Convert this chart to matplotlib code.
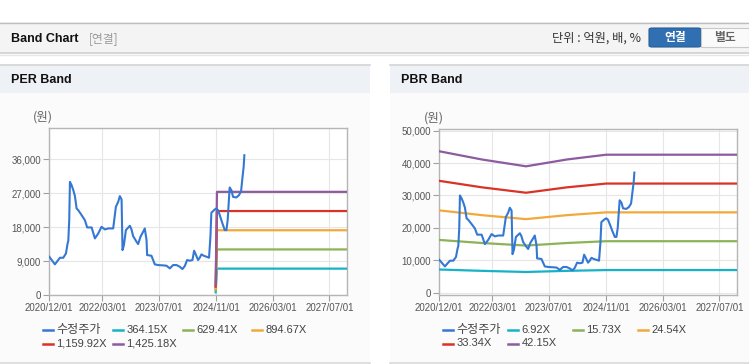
import numpy as np
import pandas as pd
import matplotlib
matplotlib.use('Agg')
import matplotlib.pyplot as plt
from matplotlib.patches import Rectangle, FancyBboxPatch
from matplotlib.lines import Line2D

plt.rcParams['font.family'] = ['Liberation Sans', 'Noto Sans CJK KR', 'DejaVu Sans']

##############################################
# Data
price_dates = ['2020-12-01', '2021-01-18', '2021-03-02', '2021-03-31', '2021-04-23', '2021-05-07',
               '2021-05-13', '2021-05-21', '2021-05-27', '2021-06-10', '2021-06-25', '2021-07-09',
               '2021-07-23', '2021-08-06', '2021-09-04', '2021-10-02', '2021-10-22', '2021-11-29',
               '2021-12-27', '2022-01-25', '2022-02-22', '2022-03-23', '2022-04-20', '2022-06-02',
               '2022-06-25', '2022-07-15', '2022-07-29', '2022-08-13', '2022-08-21', '2022-09-02',
               '2022-09-19', '2022-10-23', '2022-11-06', '2022-11-20', '2022-12-19', '2023-01-02',
               '2023-01-22', '2023-02-14', '2023-02-28', '2023-03-15', '2023-03-20', '2023-04-26',
               '2023-05-25', '2023-06-23', '2023-08-04', '2023-09-02', '2023-10-01', '2023-10-29',
               '2023-11-27', '2023-12-25', '2024-01-17', '2024-02-06', '2024-02-26', '2024-03-20',
               '2024-04-12', '2024-04-26', '2024-05-10', '2024-05-30', '2024-06-13', '2024-06-28',
               '2024-07-18', '2024-08-10', '2024-09-01', '2024-09-13', '2024-09-21', '2024-10-20',
               '2024-11-03', '2024-11-17', '2024-12-02', '2024-12-25', '2025-01-14', '2025-01-28',
               '2025-02-08', '2025-02-20', '2025-02-25', '2025-03-12', '2025-03-26', '2025-04-23',
               '2025-05-16', '2025-06-03', '2025-06-14', '2025-06-25', '2025-07-01']
price = [10150, 8120, 9880, 9880, 11030, 13680,
         14380, 19850, 30000, 29120, 27800, 26210,
         22940, 22500, 21180, 19850, 17910, 17910,
         15000, 16320, 18090, 17380, 17650, 17650,
         23380, 24710, 26210, 25320, 11910, 13240,
         17210, 18350, 17380, 15620, 14120, 13500,
         15440, 16770, 17650, 14560, 10590, 10410,
         8120, 7940, 7850, 7770, 7060, 7940,
         7940, 7500, 6880, 7680, 9270, 9090,
         9270, 11740, 10770, 9270, 9880, 10770,
         10410, 10150, 9880, 15440, 21800, 22680,
         22940, 22500, 21180, 18970, 17210, 17210,
         19850, 26030, 28500, 27800, 26030, 25850,
         26470, 27530, 30880, 33970, 37060]

# PER band (valid only from late 2024)
per_dates = ['2024-10-28', '2024-11-08', '2027-12-01']
per_labels = ['364.15X', '629.41X', '894.67X', '1,159.92X', '1,425.18X']
per_bands = [[690, 6990, 6990],
             [1200, 12080, 12080],
             [1700, 17170, 17170],
             [2200, 22260, 22260],
             [2700, 27350, 27350]]

# PBR band
pbr_dates = ['2020-12-01', '2021-12-01', '2022-12-15', '2023-12-01', '2024-11-01', '2027-12-01']
pbr_labels = ['6.92X', '15.73X', '24.54X', '33.34X', '42.15X']
pbr_bands = [[7160, 6750, 6400, 6750, 6990, 6990],
             [16280, 15340, 14550, 15340, 15890, 15890],
             [25400, 23930, 22700, 23930, 24790, 24790],
             [34510, 32510, 30840, 32510, 33670, 33670],
             [43630, 41100, 38990, 41100, 42570, 42570]]

price_color = '#3478d4'
band_colors = ['#17b2c7', '#8cb356', '#f2a93b', '#d93327', '#8d5b9e']

xticks = ['2020-12-01', '2022-03-01', '2023-07-01', '2024-11-01', '2026-03-01', '2027-07-01']
xlim = ['2020-12-01', '2027-12-01']

##############################################
W, H = 749, 364
fig = plt.figure(figsize=(W / 100, H / 100), dpi=100)
fig.patch.set_facecolor('white')


def fx(px):
    return px / W


def fy(py):
    return 1 - py / H


def rect(x0, y0, x1, y1, color):
    fig.add_artist(Rectangle((fx(x0), fy(y1)), fx(x1) - fx(x0), fy(y0) - fy(y1),
                             transform=fig.transFigure, facecolor=color, edgecolor='none', zorder=-5))


def hline(x0, x1, y, color, lw=1.0):
    fig.add_artist(Line2D([fx(x0), fx(x1)], [fy(y), fy(y)], transform=fig.transFigure,
                          color=color, lw=lw, zorder=-4))


# top header
rect(0, 22, W, 53, '#f4f4f4')
hline(0, W, 22.5, '#bdbdbd')
hline(0, W, 53, '#cfcfcf', lw=1.2)
hline(0, W, 54.5, '#e6e6e6', lw=1.0)
fig.text(fx(11), fy(38.5), 'Band Chart', fontsize=9, fontweight='bold', color='#111111', va='center')
fig.text(fx(89), fy(38.5), '[연결]', fontsize=8.5, color='#999999', va='center',
         family=['Noto Sans CJK KR'])
fig.text(fx(552), fy(38.5), '단위 : 억원, 배, %', fontsize=8.8, color='#333333', va='center',
         family=['Noto Sans CJK KR', 'DejaVu Sans'])
fig.add_artist(FancyBboxPatch((fx(649), fy(47)), fx(52), 19 / H, boxstyle='round,pad=0,rounding_size=0.004',
                              transform=fig.transFigure, facecolor='#2f6fb2', edgecolor='#285f9a', lw=0.8))
fig.add_artist(Rectangle((fx(701), fy(47)), fx(48), 19 / H, transform=fig.transFigure,
                         facecolor='#fafafa', edgecolor='#c9c9c9', lw=0.8))
fig.text(fx(675), fy(37.5), '연결', fontsize=8.5, fontweight='bold', color='white', ha='center', va='center',
         family=['Noto Sans CJK KR'])
fig.text(fx(725), fy(37.5), '별도', fontsize=8.5, fontweight='bold', color='#666666', ha='center', va='center',
         family=['Noto Sans CJK KR'])

# panels
for x0, x1, title in [(0, 370, 'PER Band'), (390, W, 'PBR Band')]:
    rect(x0, 64, x1, 93, '#eef1f6')
    rect(x0, 93, x1, 362, '#fbfbfb')
    hline(x0, x1, 64.5, '#d6d6d6', lw=1.2)
    hline(x0, x1, 362.5, '#d9d9d9', lw=1.2)
    fig.text(fx(x0 + 11), fy(80), title, fontsize=9, fontweight='bold', color='#111111', va='center')

ax1 = fig.add_axes([fx(49.3), fy(295), fx(298), 166.7 / H])
ax2 = fig.add_axes([fx(439.3), fy(295), fx(298), 166 / H])

pdates = pd.to_datetime(price_dates)
for ax, bdates, bands, labels, ylim, yticks in [
        (ax1, per_dates, per_bands, per_labels, (0, 44200), [0, 9000, 18000, 27000, 36000]),
        (ax2, pbr_dates, pbr_bands, pbr_labels, (-700, 50500), [0, 10000, 20000, 30000, 40000, 50000])]:
    ax.set_zorder(2)
    ax.set_facecolor('white')
    bd = pd.to_datetime(bdates)
    for vals, c in zip(bands, band_colors):
        ax.plot(bd, vals, color=c, lw=1.6, zorder=3)
    ax.plot(pdates, price, color=price_color, lw=1.5, zorder=4)
    ax.set_xlim(pd.to_datetime(xlim))
    ax.set_ylim(ylim)
    ax.set_xticks(pd.to_datetime(xticks))
    ax.set_xticklabels([t.replace('-', '/') for t in xticks])
    ax.set_yticks(yticks)
    ax.set_yticklabels(['{:,}'.format(v) for v in yticks])
    ax.grid(True, color='#e6e6e6', lw=0.8, zorder=0)
    ax.set_axisbelow(True)
    for s in ax.spines.values():
        s.set_color('#b5b5b5')
        s.set_linewidth(1.0)
    ax.tick_params(axis='both', length=4, width=0.8, color='#a0a0a0', labelsize=7,
                   labelcolor='#555555', pad=2)

fig.text(fx(43), fy(117), '(원)', fontsize=9, color='#666666', ha='center', va='center',
         family=['Noto Sans CJK KR'])
fig.text(fx(434), fy(118), '(원)', fontsize=9, color='#666666', ha='center', va='center',
         family=['Noto Sans CJK KR'])

# legends
for x_cols, labels in [([43, 113, 183, 252], per_labels), ([443, 508, 573, 638], pbr_labels)]:
    names = ['수정주가'] + labels
    colors = [price_color] + band_colors
    for i, (name, c) in enumerate(zip(names, colors)):
        x = x_cols[i % 4]
        y = 330 if i < 4 else 343.5
        fig.add_artist(Line2D([fx(x), fx(x + 10)], [fy(y), fy(y)], transform=fig.transFigure,
                              color=c, lw=1.8))
        fs = 8.7 if name == '수정주가' else 8
        fig.text(fx(x + 13.5), fy(y), name, fontsize=fs, color='#444444', va='center',
                 family=['Liberation Sans', 'Noto Sans CJK KR'])

fig.savefig('out.png', dpi=100)
